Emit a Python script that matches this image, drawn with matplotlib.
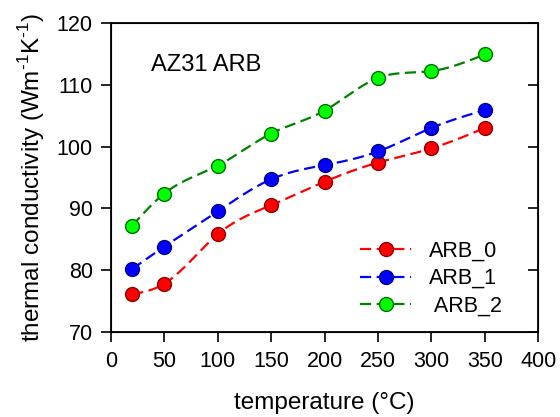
import numpy as np
import matplotlib
matplotlib.use('Agg')
import matplotlib.pyplot as plt

plt.rcParams['font.family'] = ['Liberation Sans', 'DejaVu Sans']
plt.rcParams['mathtext.fontset'] = 'custom'
plt.rcParams['mathtext.rm'] = 'Liberation Sans'
plt.rcParams['axes.unicode_minus'] = False

temp = [20, 50, 100, 150, 200, 250, 300, 350]
arb_0 = [76.1, 77.8, 85.8, 90.5, 94.3, 97.4, 99.7, 103.0]
arb_1 = [80.2, 83.8, 89.5, 94.7, 97.0, 99.2, 103.0, 105.9]
arb_2 = [87.2, 92.4, 96.9, 102.1, 105.8, 111.1, 112.2, 114.9]


def smooth(x, y, n=200):
    # natural cubic spline through the points
    x = np.asarray(x, float)
    y = np.asarray(y, float)
    k = len(x)
    h = np.diff(x)
    A = np.zeros((k, k))
    b = np.zeros(k)
    A[0, 0] = A[-1, -1] = 1
    for i in range(1, k - 1):
        A[i, i - 1] = h[i - 1]
        A[i, i] = 2 * (h[i - 1] + h[i])
        A[i, i + 1] = h[i]
        b[i] = 6 * ((y[i + 1] - y[i]) / h[i] - (y[i] - y[i - 1]) / h[i - 1])
    M = np.linalg.solve(A, b)
    xs = np.linspace(x[0], x[-1], n)
    idx = np.clip(np.searchsorted(x, xs) - 1, 0, k - 2)
    x0, x1 = x[idx], x[idx + 1]
    hh = x1 - x0
    t0, t1 = x1 - xs, xs - x0
    ys = (M[idx] * t0**3 + M[idx + 1] * t1**3) / (6 * hh) \
        + (y[idx] / hh - M[idx] * hh / 6) * t0 \
        + (y[idx + 1] / hh - M[idx + 1] * hh / 6) * t1
    return xs, ys


fig = plt.figure(figsize=(5.6, 4.17), dpi=100)
ax = fig.add_axes([0.198, 0.204, 0.763, 0.741])

series = [
    (arb_0, 'ARB_0', 'red', 'red', '#8b0000'),
    (arb_1, 'ARB_1', 'blue', 'blue', '#00008b'),
    (arb_2, ' ARB_2', '#008000', '#00ff00', '#007000'),
]
for vals, name, lc, fc, ec in series:
    xs, ys = smooth(temp, vals)
    ax.plot(xs, ys, color=lc, lw=1.6, dashes=(5, 2.5), zorder=2)
    ax.plot(temp, vals, 'o', ms=10, mfc=fc, mec=ec, mew=1.0, zorder=3)
    # legend proxy
    ax.plot([], [], color=lc, lw=1.6, dashes=(5, 2.5), marker='o',
            ms=10, mfc=fc, mec=ec, mew=1.0, label=name)

ax.set_xlim(0, 400)
ax.set_ylim(70, 120)
ax.set_xticks(range(0, 401, 50))
ax.set_yticks(range(70, 121, 10))
ax.tick_params(axis='both', labelsize=15.5, width=1.2, length=7, direction='out')
ax.tick_params(axis='x', pad=7)
ax.tick_params(axis='y', pad=6)
for s in ax.spines.values():
    s.set_linewidth(1.3)

# inward ticks on the right side
ax_r = ax.twinx()
ax_r.set_ylim(ax.get_ylim())
ax_r.set_yticks(range(70, 121, 10))
ax_r.tick_params(axis='y', direction='in', length=7, width=1.2, labelright=False)

ax.set_xlabel('temperature (°C)', fontsize=17.5, labelpad=14)
ax.set_ylabel(r'thermal conductivity (Wm$^{\text{-1}}$K$^{\text{-1}}$)',
              fontsize=17.5, labelpad=7)
ax.text(0.095, 0.844, 'AZ31 ARB', transform=ax.transAxes, fontsize=17)

ax.legend(loc='lower right', frameon=False, fontsize=15.5, handlelength=2.4,
          labelspacing=0.3, handletextpad=0.8, bbox_to_anchor=(0.96, -0.013))

fig.savefig('out.png', dpi=100)
